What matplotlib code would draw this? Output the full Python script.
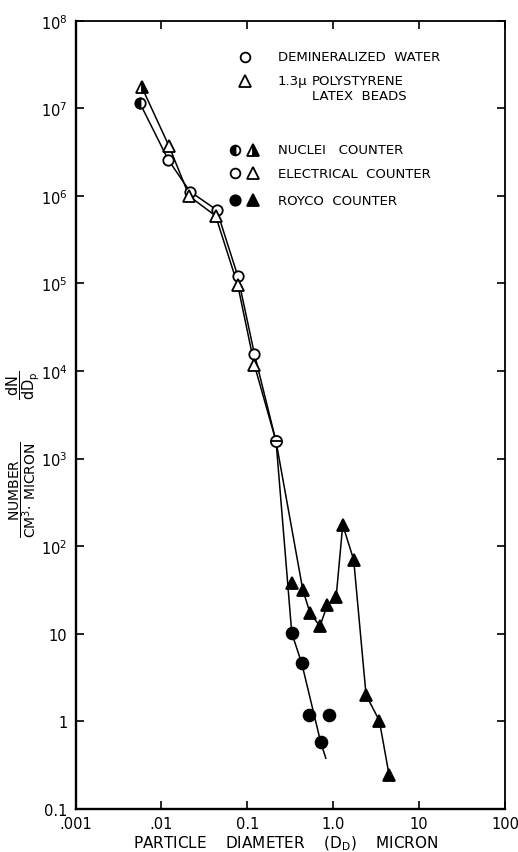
import matplotlib
matplotlib.use("Agg")
import matplotlib.pyplot as plt
from matplotlib.ticker import FixedLocator, FixedFormatter, NullLocator

# ---- Demineralized water -------------------------------------------------
water_nuclei_d = [0.0056]
water_nuclei_n = [1.15e7]
water_elec_d = [0.0120, 0.0215, 0.044, 0.0773, 0.121]
water_elec_n = [2.58e6, 1.12e6, 6.9e5, 1.22e5, 1.56e4]
water_royco_d = [0.329, 0.43, 0.527, 0.715, 0.887]
water_royco_n = [10.2, 4.6, 1.18, 0.577, 1.18]
# curve drawn through the Royco water counts
water_royco_curve_d = [0.329, 0.43, 0.715, 0.82]
water_royco_curve_n = [10.2, 4.6, 0.577, 0.38]

# ---- 1.3 micron polystyrene latex beads ----------------------------------
latex_nuclei_d = [0.0059]
latex_nuclei_n = [1.75e7]
latex_elec_d = [0.0123, 0.0211, 0.0428, 0.0773, 0.121]
latex_elec_n = [3.67e6, 9.9e5, 5.9e5, 9.6e4, 1.17e4]
latex_royco_d = [0.329, 0.442, 0.537, 0.70, 0.853, 1.08, 1.29, 1.73, 2.41, 3.44, 4.47]
latex_royco_n = [38, 31.9, 17.3, 12.2, 21.3, 26.1, 175, 70, 2.0, 1.02, 0.244]

# electrical-counter point common to both samples
shared_d = [0.216]
shared_n = [1.57e3]

x_ticks = [0.001, 0.01, 0.1, 1.0, 10, 100]
x_tick_labels = [".001", ".01", "0.1", "1.0", "10", "100"]
y_ticks = [0.1, 1, 10, 1e2, 1e3, 1e4, 1e5, 1e6, 1e7, 1e8]
y_tick_labels = ["0.1", "1", "10", "$10^2$", "$10^3$", "$10^4$",
                 "$10^5$", "$10^6$", "$10^7$", "$10^8$"]

plt.rcParams["font.family"] = ["DejaVu Sans"]
plt.rcParams["mathtext.fontset"] = "dejavusans"

fig = plt.figure(figsize=(5.18, 8.53), dpi=100)
ax = fig.add_axes([0.1458, 0.0504, 0.8292, 0.9242])
ax.set_xscale("log")
ax.set_yscale("log")
ax.set_xlim(0.001, 100)
ax.set_ylim(0.1, 1e8)

LW = 1.1
# connecting curves
water_line_d = water_nuclei_d + water_elec_d + shared_d + water_royco_curve_d
water_line_n = water_nuclei_n + water_elec_n + shared_n + water_royco_curve_n
ax.plot(water_line_d, water_line_n, color="black", lw=LW, zorder=1)

# the first Royco triangle sits on the water curve; the latex curve starts at the next one
latex_line_d = latex_nuclei_d + latex_elec_d + shared_d + latex_royco_d[1:]
latex_line_n = latex_nuclei_n + latex_elec_n + shared_n + latex_royco_n[1:]
ax.plot(latex_line_d, latex_line_n, color="black", lw=LW, zorder=1)

MS_O, MS_T, MEW = 7.5, 8.5, 1.3
open_kw = dict(ls="none", mec="black", mfc="white", mew=MEW, zorder=3)
fill_kw = dict(ls="none", mec="black", mfc="black", mew=MEW, zorder=3)
half_kw = dict(ls="none", mec="black", mfc="black", markerfacecoloralt="white",
               mew=MEW, zorder=3)

ax.plot(water_nuclei_d, water_nuclei_n, marker="o", ms=MS_O, fillstyle="left", **half_kw)
ax.plot(latex_nuclei_d, latex_nuclei_n, marker="^", ms=MS_T, fillstyle="right", **half_kw)
ax.plot(water_elec_d, water_elec_n, marker="o", ms=MS_O, **open_kw)
ax.plot(latex_elec_d, latex_elec_n, marker="^", ms=MS_T, **open_kw)
ax.plot(shared_d, shared_n, marker="o", ms=MS_O + 0.5, **open_kw)
ax.plot(shared_d, shared_n, marker="_", ms=MS_O - 1, ls="none", mec="black", mew=1.3, zorder=4)
ax.plot(water_royco_d, water_royco_n, marker="o", ms=8.5, **fill_kw)
ax.plot(latex_royco_d, latex_royco_n, marker="^", ms=MS_T, **fill_kw)

# axes styling
ax.xaxis.set_major_locator(FixedLocator(x_ticks))
ax.xaxis.set_major_formatter(FixedFormatter(x_tick_labels))
ax.yaxis.set_major_locator(FixedLocator(y_ticks))
ax.yaxis.set_major_formatter(FixedFormatter(y_tick_labels))
ax.xaxis.set_minor_locator(NullLocator())
ax.yaxis.set_minor_locator(NullLocator())
ax.tick_params(which="major", direction="in", length=6, width=1.2,
               top=True, right=True, labelsize=10.5)
ax.tick_params(axis="y", pad=6)
ax.tick_params(axis="x", pad=5)
for side in ("left", "bottom"):
    ax.spines[side].set_linewidth(1.7)
for side in ("top", "right"):
    ax.spines[side].set_linewidth(1.3)

ax.set_xlabel("PARTICLE    DIAMETER    (D$_\\mathrm{D}$)    MICRON", fontsize=11)
ax.xaxis.set_label_coords(0.49, -0.043, transform=ax.transAxes)
ax.xaxis.label.set_va("center")

fig.text(0.046, 0.548, r"$\dfrac{\mathrm{dN}}{\mathrm{dD_p}}$", rotation=90,
         ha="center", va="center", fontsize=10.5)
fig.text(0.043, 0.426, r"$\dfrac{\mathrm{NUMBER}}{\mathrm{CM^3\!\cdot\, MICRON}}$",
         rotation=90, ha="center", va="center", fontsize=10)

# key
T = ax.transAxes
key_fs = 9.5
ax.plot([0.3946], [0.954], marker="o", ms=7, transform=T, clip_on=False, **open_kw)
ax.text(0.4715, 0.954, "DEMINERALIZED  WATER", transform=T, fontsize=key_fs, va="center")
ax.plot([0.3946], [0.9235], marker="^", ms=8, transform=T, clip_on=False, **open_kw)
ax.text(0.4715, 0.9235, "1.3\u03bc", transform=T, fontsize=key_fs, va="center")
ax.text(0.5506, 0.9245, "POLYSTYRENE", transform=T, fontsize=key_fs, va="center")
ax.text(0.5506, 0.9049, "LATEX  BEADS", transform=T, fontsize=key_fs, va="center")

rows = [
    (0.8364, "NUCLEI   COUNTER", "half"),
    (0.8064, "ELECTRICAL  COUNTER", "open"),
    (0.7725, "ROYCO  COUNTER", "fill"),
]
for yk, label, kind in rows:
    if kind == "half":
        ax.plot([0.3714], [yk], marker="o", ms=7, fillstyle="left", transform=T, **half_kw)
        ax.plot([0.4132], [yk], marker="^", ms=8, fillstyle="right", transform=T, **half_kw)
    elif kind == "open":
        ax.plot([0.3714], [yk], marker="o", ms=7, transform=T, **open_kw)
        ax.plot([0.4132], [yk], marker="^", ms=8, transform=T, **open_kw)
    else:
        ax.plot([0.3714], [yk], marker="o", ms=7.5, transform=T, **fill_kw)
        ax.plot([0.4132], [yk], marker="^", ms=8, transform=T, **fill_kw)
    ax.text(0.4715, yk, label, transform=T, fontsize=key_fs, va="center")

fig.savefig("out.png", dpi=100, facecolor="white")
